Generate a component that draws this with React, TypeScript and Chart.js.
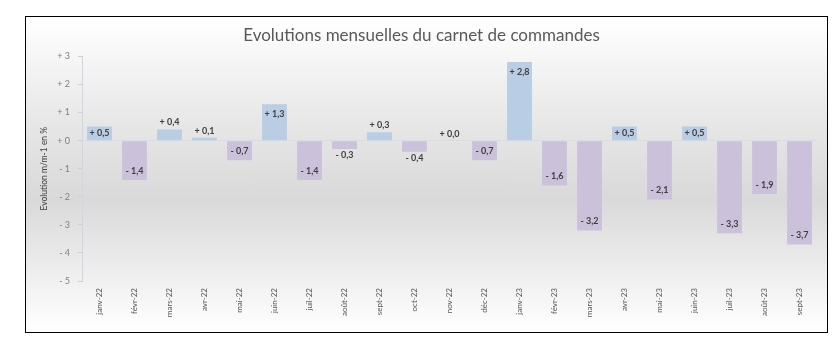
import React, { useEffect, useRef } from "react";
import { Chart, registerables } from "chart.js";

Chart.register(...registerables);

const categories = [
  "janv-22", "févr-22", "mars-22", "avr-22", "mai-22", "juin-22", "juil-22",
  "août-22", "sept-22", "oct-22", "nov-22", "déc-22", "janv-23", "févr-23",
  "mars-23", "avr-23", "mai-23", "juin-23", "juil-23", "août-23", "sept-23",
];
const values = [
  0.5, -1.4, 0.4, 0.1, -0.7, 1.3, -1.4, -0.3, 0.3, -0.4, 0.0, -0.7, 2.8, -1.6,
  -3.2, 0.5, -2.1, 0.5, -3.3, -1.9, -3.7,
];
const yMin = -5;
const yMax = 3;
const titleText = "Evolutions mensuelles du carnet de commandes";
const yTitle = "Evolution m/m-1 en %";

const POS = "#b9cde5";
const NEG = "#ccc1da";
const FONT = "Lato, 'Open Sans', sans-serif";

function fmt(v: number): string {
  const s = Math.abs(v).toFixed(1).replace(".", ",");
  return (v < 0 ? "- " : "+ ") + s;
}

const labelPlugin = {
  id: "barLabels",
  afterDatasetsDraw(chart: any) {
    const ctx = chart.ctx;
    const meta = chart.getDatasetMeta(0);
    ctx.save();
    ctx.font = `bold 9px ${FONT}`;
    ctx.fillStyle = "#404040";
    ctx.textAlign = "center";
    ctx.textBaseline = "middle";
    meta.data.forEach((el: any, i: number) => {
      const v = values[i];
      const h = Math.abs(el.base - el.y);
      let y: number;
      if (v >= 0) {
        if (h >= 20) y = el.y + 10;
        else if (h >= 12) y = el.y + h / 2;
        else y = el.y - 7;
      } else {
        if (h >= 20) y = el.y - 9;
        else if (h >= 12) y = el.y - h / 2;
        else y = el.y + 6;
      }
      ctx.fillText(fmt(v), el.x, y);
    });
    ctx.restore();
  },
};

export default function App() {
  const ref = useRef<HTMLCanvasElement | null>(null);
  useEffect(() => {
    if (!ref.current) return;
    const chart = new Chart(ref.current, {
      type: "bar",
      data: {
        labels: categories,
        datasets: [
          {
            data: values,
            backgroundColor: values.map((v) => (v >= 0 ? POS : NEG)),
            borderWidth: 0,
            barPercentage: 0.71,
            categoryPercentage: 1,
          },
        ],
      },
      options: {
        animation: false,
        responsive: false,
        maintainAspectRatio: false,
        layout: { padding: { left: 0, right: 10, top: 0, bottom: 0 } },
        plugins: {
          legend: { display: false },
          tooltip: { enabled: false },
          title: {
            display: true,
            text: titleText,
            color: "#595959",
            font: { family: FONT, size: 17, weight: "normal" },
            padding: { top: 8, bottom: 11 },
          },
        },
        scales: {
          x: {
            grid: { display: false, drawTicks: false },
            border: { display: false },
            ticks: {
              color: "#595959",
              font: { family: FONT, size: 8 },
              minRotation: 90,
              maxRotation: 90,
              padding: 7,
              autoSkip: false,
            },
            afterFit(scale: any) {
              scale.height = 51;
            },
          },
          y: {
            min: yMin,
            max: yMax,
            ticks: {
              stepSize: 1,
              color: "#7f7f7f",
              font: { family: FONT, size: 9 },
              padding: 8,
              callback: (v: any) => {
                const n = Number(v);
                if (n === 0) return "+ 0";
                return (n < 0 ? "- " : "+ ") + Math.abs(n);
              },
            },
            grid: {
              color: (c: any) =>
                c.tick && c.tick.value === 0 ? "#d6dde7" : "rgba(0,0,0,0)",
              tickColor: "#cfcfcf",
              tickLength: 4,
            },
            border: { color: "#cdd6e2" },
            title: {
              display: true,
              text: yTitle,
              color: "#404040",
              font: { family: FONT, size: 8.5 },
              padding: { top: 13, bottom: 0 },
            },
            afterFit(scale: any) {
              scale.width = 56;
            },
          },
        },
      },
      plugins: [labelPlugin],
    });
    return () => chart.destroy();
  }, []);

  return (
    <div
      style={{
        position: "absolute",
        left: 0,
        top: 0,
        width: 840,
        height: 342,
        background: "#ffffff",
      }}
    >
      <div
        style={{
          position: "absolute",
          left: 25,
          top: 16,
          width: 803,
          height: 317,
          boxSizing: "border-box",
          border: "1px solid #000",
          background:
            "linear-gradient(to bottom, #ffffff 0%, #e6e6e6 35%, #d9d9d9 58%, #ededed 80%, #ffffff 100%)",
        }}
      >
        <canvas
          ref={ref}
          width={801}
          height={315}
          style={{ display: "block", width: 801, height: 315 }}
        />
      </div>
    </div>
  );
}
